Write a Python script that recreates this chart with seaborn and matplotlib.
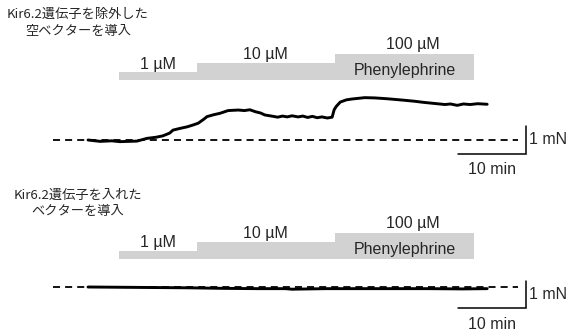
"""
Isometric tension traces: phenylephrine response with / without Kir6.2.
"""

import matplotlib
matplotlib.use("Agg")
import matplotlib.pyplot as plt
import numpy as np
import pandas as pd
import seaborn as sns

# drug application schedule (min)
dose_labels = ["1 µM", "10 µM", "100 µM"]
dose_start = [4.6, 16.0, 36.3]
dose_end = [16.0, 36.3, 56.8]
drug_name = "Phenylephrine"

# empty vector (Kir6.2 removed): time (min) / tension (mN)
empty_time = [0.0, 1.8, 3.5, 4.7, 6.0, 7.2, 8.7, 10.0, 11.0, 12.0, 12.5, 13.5,
              14.6, 15.5, 16.2, 17.0, 17.5, 18.5, 19.4, 20.6, 22.1, 23.0, 23.8,
              24.6, 25.4, 26.0, 27.0, 27.9, 28.6, 29.3, 30.0, 30.9, 31.6, 32.3,
              33.0, 33.7, 34.4, 35.2, 35.9, 36.2, 36.5, 37.1, 38.0, 38.8, 40.7,
              42.2, 44.0, 46.3, 48.0, 49.3, 51.3, 52.5, 53.3, 54.3, 55.2, 56.2,
              57.3, 58.7]
empty_force = [0.0, -0.05, -0.03, -0.06, -0.05, -0.04, 0.06, 0.10, 0.15, 0.25,
               0.36, 0.42, 0.48, 0.55, 0.61, 0.75, 0.85, 0.92, 0.97, 1.07, 1.09,
               1.07, 1.10, 1.03, 0.98, 0.91, 0.87, 0.83, 0.87, 0.84, 0.88, 0.84,
               0.87, 0.82, 0.86, 0.81, 0.84, 0.80, 0.83, 1.10, 1.22, 1.38, 1.46,
               1.49, 1.54, 1.53, 1.50, 1.45, 1.41, 1.37, 1.32, 1.29, 1.31, 1.26,
               1.31, 1.29, 1.32, 1.30]

# Kir6.2 vector: time (min) / tension (mN)
kir_time = [0.0, 5.0, 10.0, 15.0, 20.0, 25.0, 29.0, 30.0, 35.0, 40.0, 45.0,
            50.0, 55.0, 58.7]
kir_force = [0.0, -0.01, -0.02, -0.03, -0.05, -0.06, -0.06, -0.08, -0.06,
             -0.06, -0.06, -0.06, -0.07, -0.06]

titles_empty = ["Kir6.2遺伝子を除外した", "空ベクターを導入"]
titles_kir = ["Kir6.2遺伝子を入れた", "ベクターを導入"]

# layout in pixels (figure is 571 x 331)
W, H = 571, 331
PX_MIN = 6.8     # pixels per minute
PX_MN = 27.5     # pixels per mN
X0 = 88          # pixel x of t = 0
STEP_H = [0.30, 0.61, 0.93]
BAR_COLOR = "#d2d2d2"
LATIN = ["Liberation Sans", "DejaVu Sans"]
CJK = ["Noto Sans CJK JP", "DejaVu Sans"]
FS = 11.5

sns.set_theme(style="white")
plt.rcParams["font.family"] = LATIN


def draw_panel(ax, time, force, ax_top_px, ax_bot_px, base_px, bar_base, scale_lo):
    ax.set_xlim(-X0 / PX_MIN, (W - X0) / PX_MIN)
    ax.set_ylim(-(ax_bot_px - base_px) / PX_MN, (base_px - ax_top_px) / PX_MN)
    ax.axis("off")

    # baseline
    ax.plot([-5.15, 63.2], [0, 0], color="black", lw=1.3,
            linestyle=(0, (3.9, 2.8)))

    # trace
    df = pd.DataFrame({"time": time, "force": force})
    sns.lineplot(data=df, x="time", y="force", ax=ax, color="black", lw=2.1,
                 sort=False)

    # drug bars
    widths = [e - s for s, e in zip(dose_start, dose_end)]
    ax.bar(dose_start, STEP_H, width=widths, bottom=bar_base, align="edge",
           color=BAR_COLOR, edgecolor="none", lw=0)
    offsets = [0.58, 0.93, 1.29]
    for lab, s, e, off in zip(dose_labels, dose_start, dose_end, offsets):
        cx = (s + e) / 2
        if lab == dose_labels[-1]:
            cx += 1.2
        ax.text(cx, bar_base + off, lab, ha="center", va="center", fontsize=FS)
    ax.text((dose_start[-1] + dose_end[-1]) / 2, bar_base + 0.33, drug_name,
            ha="center", va="center", fontsize=FS)

    # scale bars: 1 mN, 10 min
    sx = 64.4
    ax.plot([sx - 10, sx, sx], [scale_lo, scale_lo, scale_lo + 1],
            color="black", lw=1.1, solid_joinstyle="miter")
    ax.text(sx + 0.4, scale_lo + 0.5, "1 mN", ha="left", va="center", fontsize=FS)
    ax.text(sx - 5, scale_lo - 0.57, "10 min", ha="center", va="center",
            fontsize=FS)


fig = plt.figure(figsize=(W / 100, H / 100), dpi=100)
half = H / 2
ax_top = fig.add_axes([0, 0.5, 1, 0.5])
ax_bot = fig.add_axes([0, 0, 1, 0.5])

draw_panel(ax_top, empty_time, empty_force, 0, half, 140, 2.18, -0.5)
draw_panel(ax_bot, kir_time, kir_force, half, H, 287, 1.02, -0.78)

for lines, ys in [(titles_empty, (14, 31)), (titles_kir, (195, 212))]:
    for txt, y in zip(lines, ys):
        fig.text(78 / W, 1 - y / H, txt, ha="center", va="center",
                 fontsize=9.5, family=CJK)

fig.savefig("out.png", dpi=100)
plt.close(fig)
